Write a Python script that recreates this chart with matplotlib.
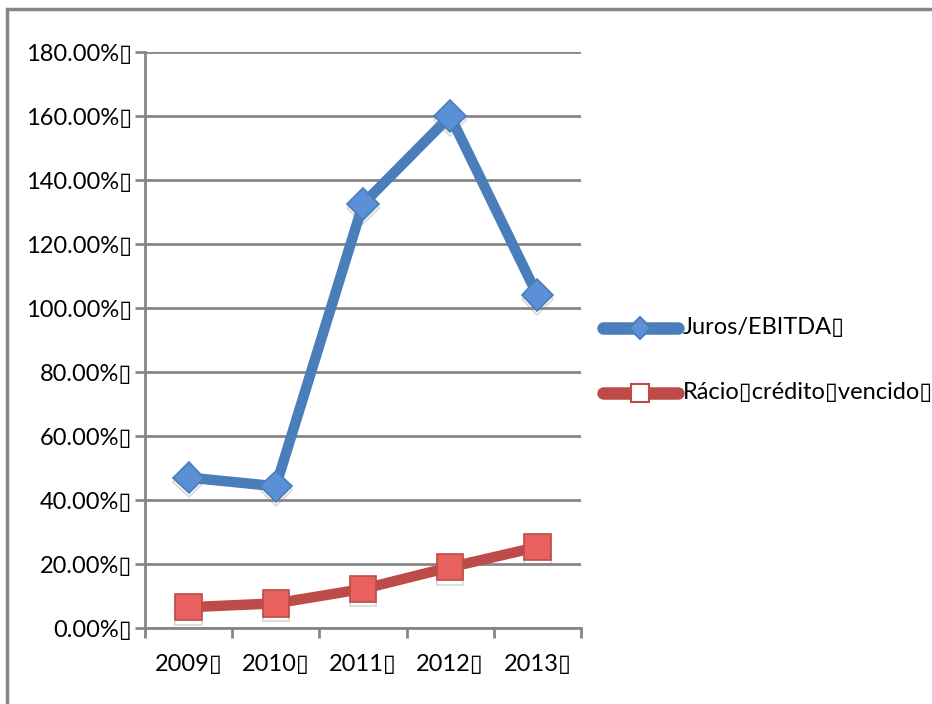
import matplotlib
matplotlib.use("Agg")
import matplotlib.pyplot as plt
from matplotlib.patches import Rectangle
import matplotlib.patheffects as pe

# data
years = ["2009", "2010", "2011", "2012", "2013"]
juros_ebitda = [47.0, 44.3, 132.5, 160.0, 104.0]
racio_credito = [6.5, 7.7, 12.2, 19.0, 25.3]
series_names = ["Juros/EBITDA", "Rácio crédito vencido"]
yticks = [0, 20, 40, 60, 80, 100, 120, 140, 160, 180]

BOX = "\u25AF"  # missing-glyph box shown in the source
FONT = ["Lato", "DejaVu Sans"]
FS = 17
GRID = "#868686"
BLUE = "#4a7ebb"
BLUE_M = "#5b8fd6"
RED = "#be4b48"
RED_M = "#e8615e"

W, H = 932, 704
fig = plt.figure(figsize=(W / 100, H / 100), dpi=100)
ax = fig.add_axes([145 / W, 1 - 628 / H, (581 - 145) / W, (628 - 52) / H])

x = list(range(len(years)))
shadow = [pe.SimpleLineShadow(offset=(0, -3), shadow_color="gray", alpha=0.3), pe.Normal()]

ax.plot(x, juros_ebitda, color=BLUE, lw=7.5, solid_capstyle="round", zorder=3)
ax.plot(x, juros_ebitda, ls="none", zorder=4,
        marker="D", markersize=16, markerfacecolor=BLUE_M, markeredgecolor=BLUE,
        markeredgewidth=1.2, path_effects=shadow)
ax.plot(x, racio_credito, color=RED, lw=7.5, solid_capstyle="round", zorder=3)
ax.plot(x, racio_credito, ls="none", zorder=4,
        marker="s", markersize=19, markerfacecolor=RED_M, markeredgecolor=RED,
        markeredgewidth=1.2, path_effects=shadow)

ax.set_xlim(-0.5, len(years) - 0.5)
ax.set_ylim(0, 180)
ax.set_yticks(yticks)
ax.set_yticklabels([f"{v:.2f}%{BOX}" for v in yticks], family=FONT, fontsize=FS)
ax.set_xticks([i - 0.5 for i in range(len(years) + 1)])
ax.set_xticklabels([])
ax.set_xticks(x, minor=True)
ax.set_xticklabels([y + BOX for y in years], minor=True, family=FONT, fontsize=FS)
ax.tick_params(axis="x", which="minor", length=0, pad=19)
ax.tick_params(axis="x", which="major", length=7, width=2, color=GRID)
ax.tick_params(axis="y", length=7, width=2, color=GRID, pad=2)

ax.yaxis.grid(True, color=GRID, lw=2)
ax.set_axisbelow(True)
for s in ["top", "right"]:
    ax.spines[s].set_visible(False)
for s in ["left", "bottom"]:
    ax.spines[s].set_color(GRID)
    ax.spines[s].set_linewidth(2)

# legend drawn by hand next to the plot
leg_y = [328, 393]
styles = [(BLUE, "D", 11, BLUE_M), (RED, "s", 13, "white")]
for name, ly, (c, m, ms, fc) in zip(series_names, leg_y, styles):
    yy = 1 - ly / H
    fig.add_artist(plt.Line2D([603 / W, 678 / W], [yy, yy], color=c, lw=9,
                              solid_capstyle="round", transform=fig.transFigure))
    fig.add_artist(plt.Line2D([640 / W], [yy], marker=m, markersize=ms,
                              markerfacecolor=fc, markeredgecolor=c, markeredgewidth=1.5,
                              transform=fig.transFigure))
    fig.text(683 / W, yy, name.replace(" ", BOX) + BOX, family=FONT, fontsize=FS,
             va="center", ha="left")

# outer chart frame (cropped at right and bottom)
fig.add_artist(Rectangle((7 / W, -0.1), 1.2, 1 - 9 / H + 0.1, transform=fig.transFigure,
                         fill=False, edgecolor=GRID, lw=2.5))

fig.savefig("out.png", dpi=100, facecolor="white")
